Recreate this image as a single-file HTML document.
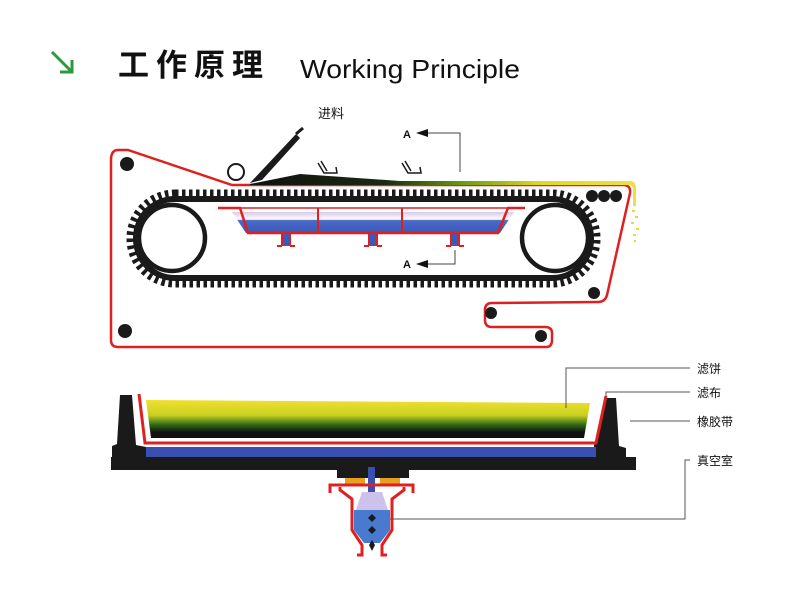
<!DOCTYPE html>
<html><head><meta charset="utf-8"><style>
html,body{margin:0;padding:0;background:#fff;width:800px;height:600px;overflow:hidden}
</style></head><body>
<svg width="800" height="600" viewBox="0 0 800 600" xmlns="http://www.w3.org/2000/svg" font-family="Liberation Sans, Noto Sans CJK SC, sans-serif">
<defs>
<linearGradient id="cake" x1="0" x2="1" y1="0" y2="0">
<stop offset="0" stop-color="#111"/><stop offset="0.35" stop-color="#1a2a10"/><stop offset="0.55" stop-color="#6a9a10"/><stop offset="0.75" stop-color="#e0d820"/><stop offset="1" stop-color="#f0e040"/></linearGradient>
<linearGradient id="cake2" x1="0" x2="0" y1="0" y2="1">
<stop offset="0" stop-color="#f0e030"/><stop offset="0.4" stop-color="#c8d020"/><stop offset="0.65" stop-color="#2e6a18"/><stop offset="0.85" stop-color="#111"/><stop offset="1" stop-color="#111"/></linearGradient>
<linearGradient id="tray" x1="0" x2="0" y1="0" y2="1">
<stop offset="0" stop-color="#d8c8e8"/><stop offset="0.35" stop-color="#ffffff"/><stop offset="0.4" stop-color="#4a6ac8"/><stop offset="1" stop-color="#3a5ab8"/></linearGradient>
</defs>
<!-- title -->
<path d="M52 52 L72 72 M72 60 L72 72 L60 72" stroke="#2a9a3a" stroke-width="3" fill="none"/>
<text x="118" y="76" font-size="31" font-weight="bold" fill="#111" letter-spacing="7">工作原理</text>
<text x="300" y="78" font-size="26" fill="#111" textLength="220" lengthAdjust="spacingAndGlyphs">Working Principle</text>

<!-- red belt -->
<path d="M118 150 Q111 150 111 160 L111 340 Q111 347 118 347 L546 347 Q552 347 552 340 L552 333 Q552 327 545 327 L492 327 Q485 327 485 320 L485 310 Q485 303 492 303 L598 302 Q605 302 607 295 L630 193 Q631 185 623 185 L232 185 L128 150 Z" fill="none" stroke="#e02020" stroke-width="2.5"/>

<!-- gear belt -->
<rect x="131" y="194" width="465" height="89" rx="44" fill="none" stroke="#1a1a1a" stroke-width="9" stroke-dasharray="3.5 3.5"/>
<rect x="136" y="199" width="455" height="79" rx="39" fill="none" stroke="#1a1a1a" stroke-width="6"/>
<circle cx="172" cy="238" r="33" fill="none" stroke="#1a1a1a" stroke-width="4.5"/>
<circle cx="555" cy="238" r="33" fill="none" stroke="#1a1a1a" stroke-width="4.5"/>

<!-- tray -->
<path d="M232 212 L514 212 L500 233 L246 233 Z" fill="url(#tray)"/>
<path d="M218 208 L240 208 L248 233 L498 233 L508 208 L525 208" fill="none" stroke="#e02020" stroke-width="2.5"/>
<line x1="232" y1="208" x2="514" y2="208" stroke="#e02020" stroke-width="1.5"/>
<line x1="318" y1="208" x2="318" y2="233" stroke="#e02020" stroke-width="2"/>
<line x1="402" y1="208" x2="402" y2="233" stroke="#e02020" stroke-width="2"/>
<g fill="#3a5ab8" stroke="#e02020" stroke-width="2">
<path d="M282 234 L282 246 M290 234 L290 246 M277 246 L282 246 M290 246 L295 246" fill="none"/>
<rect x="283" y="234" width="6" height="12" stroke="none"/>
<path d="M369 234 L369 246 M377 234 L377 246 M364 246 L369 246 M377 246 L382 246" fill="none"/>
<rect x="370" y="234" width="6" height="12" stroke="none"/>
<path d="M451 234 L451 246 M459 234 L459 246 M446 246 L451 246 M459 246 L464 246" fill="none"/>
<rect x="452" y="234" width="6" height="12" stroke="none"/>
</g>

<!-- cake on top -->
<path d="M250 184 L300 174 L400 181 L630 181 Q636 181 636 188 L636 206 L633 206 L633 189 Q633 185 628 185 L250 185 Z" fill="url(#cake)"/>
<g fill="#e8d830"><rect x="632" y="210" width="3" height="2"/><rect x="635" y="216" width="3" height="2"/><rect x="631" y="222" width="3" height="2"/><rect x="636" y="228" width="3" height="2"/><rect x="633" y="234" width="3" height="2"/><rect x="634" y="240" width="2" height="2"/></g>
<!-- feed nozzle -->
<path d="M250 183 L296 134 L300 138 L262 180 Z" fill="#1a1a1a"/>
<line x1="296" y1="134" x2="303" y2="128" stroke="#1a1a1a" stroke-width="3"/>
<text x="318" y="118" font-size="13" fill="#111">进料</text>
<circle cx="236" cy="172" r="8" fill="#fff" stroke="#1a1a1a" stroke-width="2"/>
<!-- scrapers -->
<path d="M318 163 L324 173 L337 173 L336 167 M321 161 L327 171" fill="none" stroke="#1a1a1a" stroke-width="1.5"/>
<path d="M402 163 L408 173 L421 173 L420 167 M405 161 L411 171" fill="none" stroke="#1a1a1a" stroke-width="1.5"/>
<!-- A markers -->
<text x="403" y="138" font-size="11" font-weight="bold" fill="#111">A</text>
<path d="M460 172 L460 133 L425 133" fill="none" stroke="#444" stroke-width="1"/>
<path d="M416 133 L428 129 L428 137 Z" fill="#111"/>
<text x="403" y="268" font-size="11" font-weight="bold" fill="#111">A</text>
<path d="M455 250 L455 264 L425 264" fill="none" stroke="#444" stroke-width="1"/>
<path d="M416 264 L428 260 L428 268 Z" fill="#111"/>

<!-- rollers -->
<g fill="#1a1a1a"><circle cx="127" cy="164" r="7"/><circle cx="125" cy="331" r="7"/><circle cx="592" cy="196" r="6"/><circle cx="604" cy="196" r="6"/><circle cx="616" cy="196" r="6"/><circle cx="594" cy="293" r="6"/><circle cx="491" cy="313" r="6"/><circle cx="541" cy="336" r="6"/></g>

<!-- bottom cross-section -->
<path d="M120 395 L132 395 L136 445 L146 447 L146 457 L112 457 L112 446 L117 444 Z" fill="#1a1a1a"/>
<path d="M605 398 L616 398 L619 446 L626 448 L626 457 L594 457 L594 446 Z" fill="#1a1a1a"/>
<rect x="111" y="457" width="525" height="13" fill="#1a1a1a"/>
<rect x="146" y="447" width="450" height="10" fill="#3a50b0"/>
<path d="M146 400 L590 403 L584 438 L151 438 Z" fill="url(#cake2)"/>
<path d="M139 394 L145 443 L596 443 L606 396" fill="none" stroke="#e02020" stroke-width="3"/>
<path d="M143 392 L149 441 L594 441" fill="none" stroke="#fff" stroke-width="1"/>
<!-- vacuum -->
<rect x="337" y="470" width="72" height="8" fill="#1a1a1a"/>
<rect x="368" y="467" width="7" height="25" fill="#3a50b0"/>
<rect x="345" y="478" width="20" height="8" fill="#e8a020"/>
<rect x="380" y="478" width="20" height="8" fill="#e8a020"/>
<path d="M330 493 L330 485 L413 485 L413 493" fill="none" stroke="#e02020" stroke-width="3"/>
<path d="M340 487 L340 490 L352 499 L352 530 L362 545 L362 555 L357 555 M404 487 L404 490 L392 499 L392 530 L382 545 L382 555 L387 555" fill="none" stroke="#e02020" stroke-width="3"/>
<path d="M362 492 L382 492 L388 510 L356 510 Z" fill="#b8a8e0" opacity="0.7"/>
<path d="M354 510 L390 510 L390 530 L380 543 L364 543 L354 530 Z" fill="#4a7ad0"/>
<g fill="#1a1a1a"><path d="M372 514 L376 518 L372 522 L368 518Z"/><path d="M372 526 L376 530 L372 534 L368 530Z"/><path d="M372 540 L375 545 L372 551 L369 545Z"/></g>

<!-- leaders -->
<g fill="none" stroke="#555" stroke-width="1">
<path d="M566 408 L566 368 L690 368"/>
<path d="M606 398 L606 392 L690 392"/>
<path d="M630 421 L690 421"/>
<path d="M390 519 L685 519 L685 460 L690 460"/>
</g>
<g font-size="12" fill="#111">
<text x="697" y="373">滤饼</text>
<text x="697" y="397">滤布</text>
<text x="697" y="426">橡胶带</text>
<text x="697" y="465">真空室</text>
</g>
</svg>
</body></html>
